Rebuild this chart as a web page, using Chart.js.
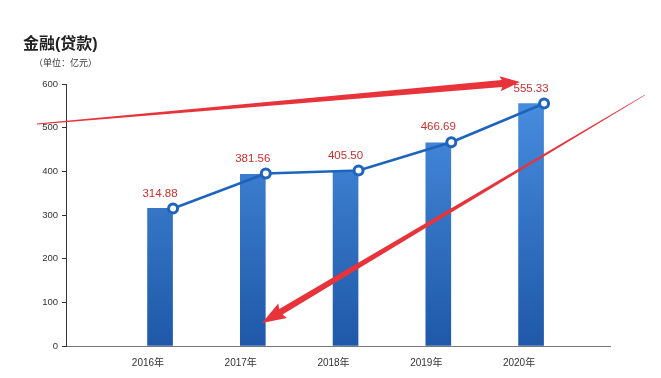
<!DOCTYPE html>
<html><head><meta charset="utf-8">
<script src="https://cdn.jsdelivr.net/npm/chart.js@4/dist/chart.umd.min.js"></script>
<style>html,body{margin:0;padding:0;background:#fff;}#c{display:block;}</style>
</head><body>
<canvas id="c" width="661" height="378"></canvas>
<script>
const categories = ['2016年', '2017年', '2018年', '2019年', '2020年'];
const barValues = [315, 393, 398, 465, 555];
const lineValues = [314.88, 395, 402, 466.69, 555.33];
const labelTexts = ['314.88', '381.56', '405.50', '466.69', '555.33'];
const yTickValues = [0, 100, 200, 300, 400, 500, 600];
const titleText = '金融(贷款)';
const subtitleText = '（单位：亿元）';

const FONT = '"Liberation Sans", Arial, "Noto Sans CJK SC", sans-serif';
const CJK = '"Liberation Sans", "Noto Sans CJK SC", sans-serif';

// axis geometry (layout only)
const X_MIN = -0.884, X_MAX = 4.981, BAR_SHIFT = 0.13, LINE_SHIFT = 0.27;

const textPlugin = {
  id: 'texts',
  afterDraw(chart) {
    const ctx = chart.ctx;
    ctx.save();
    ctx.fillStyle = '#222';
    ctx.font = 'bold 16px ' + CJK;
    ctx.textBaseline = 'middle';
    ctx.textAlign = 'left';
    ctx.fillText(titleText, 23, 45);
    ctx.font = '9px ' + CJK;
    ctx.fillStyle = '#333';
    ctx.fillText(subtitleText, 34, 64);
    ctx.restore();
  }
};

const labelPlugin = {
  id: 'valueLabels',
  afterDatasetsDraw(chart) {
    const ctx = chart.ctx;
    const bars = chart.getDatasetMeta(0).data;
    const pts = chart.getDatasetMeta(1).data;
    ctx.save();
    ctx.font = '11.5px ' + FONT;
    ctx.fillStyle = '#c8302c';
    ctx.textAlign = 'center';
    ctx.textBaseline = 'middle';
    labelTexts.forEach((t, i) => {
      ctx.fillText(t, bars[i].x, pts[i].y - 15);
    });
    ctx.restore();
  }
};

function taperArrow(ctx, x0, y0, x1, y1, w0, w1, headLen, headW) {
  const dx = x1 - x0, dy = y1 - y0;
  const len = Math.hypot(dx, dy);
  const ux = dx / len, uy = dy / len;
  const nx = -uy, ny = ux;
  const bx = x1 - ux * headLen, by = y1 - uy * headLen;
  ctx.beginPath();
  ctx.moveTo(x0 + nx * w0 / 2, y0 + ny * w0 / 2);
  ctx.lineTo(bx + nx * w1 / 2, by + ny * w1 / 2);
  ctx.lineTo(bx + nx * headW / 2 - ux * 2, by + ny * headW / 2 - uy * 2);
  ctx.lineTo(x1, y1);
  ctx.lineTo(bx - nx * headW / 2 - ux * 2, by - ny * headW / 2 - uy * 2);
  ctx.lineTo(bx - nx * w1 / 2, by - ny * w1 / 2);
  ctx.lineTo(x0 - nx * w0 / 2, y0 - ny * w0 / 2);
  ctx.closePath();
  ctx.fill();
}

const arrowPlugin = {
  id: 'arrows',
  afterDraw(chart) {
    const ctx = chart.ctx;
    ctx.save();
    ctx.fillStyle = '#e8333b';
    taperArrow(ctx, 37, 124, 520, 82, 0.8, 7, 18, 15);
    taperArrow(ctx, 645, 95, 262, 323, 0.4, 6.5, 22, 17);
    ctx.restore();
  }
};

function barGradient(context) {
  const chart = context.chart;
  const area = chart.chartArea;
  if (!area) return '#3a78cc';
  const g = chart.ctx.createLinearGradient(0, area.top, 0, area.bottom);
  g.addColorStop(0, '#4a90e2');
  g.addColorStop(1, '#1f58a8');
  return g;
}

new Chart(document.getElementById('c'), {
  data: {
    datasets: [
      {
        type: 'bar',
        data: barValues.map((v, i) => ({ x: i, y: v })),
        xAxisID: 'xb',
        grouped: false,
        backgroundColor: barGradient,
        barThickness: 25,
        borderWidth: 0,
        order: 2
      },
      {
        type: 'line',
        data: lineValues.map((v, i) => ({ x: i, y: v })),
        xAxisID: 'xl',
        borderColor: '#1e64bc',
        borderWidth: 2.5,
        pointRadius: 4.5,
        pointBorderWidth: 3,
        pointBackgroundColor: '#ffffff',
        pointBorderColor: '#1e64bc',
        tension: 0,
        order: 1
      }
    ]
  },
  options: {
    responsive: false,
    animation: false,
    devicePixelRatio: 1,
    layout: { padding: { left: 0, top: 84, right: 51, bottom: 0 } },
    plugins: { legend: { display: false }, tooltip: { enabled: false }, title: { display: false } },
    scales: {
      x: {
        type: 'linear',
        offset: false,
        min: X_MIN, max: X_MAX,
        afterBuildTicks(scale) { scale.ticks = categories.map((c, i) => ({ value: i })); },
        afterFit(scale) { scale.height = 32; },
        ticks: {
          callback: (v) => categories[v],
          color: '#333',
          font: { size: 10, family: CJK },
          padding: 3,
          maxRotation: 0,
          autoSkip: false
        },
        grid: { display: false },
        border: { display: true, color: '#777', width: 1 }
      },
      xb: { type: 'linear', offset: false, display: false, min: X_MIN - BAR_SHIFT, max: X_MAX - BAR_SHIFT },
      xl: { type: 'linear', offset: false, display: false, min: X_MIN - LINE_SHIFT, max: X_MAX - LINE_SHIFT },
      y: {
        min: 0, max: 600,
        afterBuildTicks(scale) { scale.ticks = yTickValues.map(v => ({ value: v })); },
        afterFit(scale) { scale.width = 66; },
        ticks: { color: '#333', font: { size: 9.5, family: FONT }, padding: 4 },
        grid: { drawOnChartArea: false, drawTicks: true, tickLength: 4, color: '#333' },
        border: { display: true, color: '#333', width: 1 }
      }
    }
  },
  plugins: [textPlugin, labelPlugin, arrowPlugin]
});
</script>
</body></html>
